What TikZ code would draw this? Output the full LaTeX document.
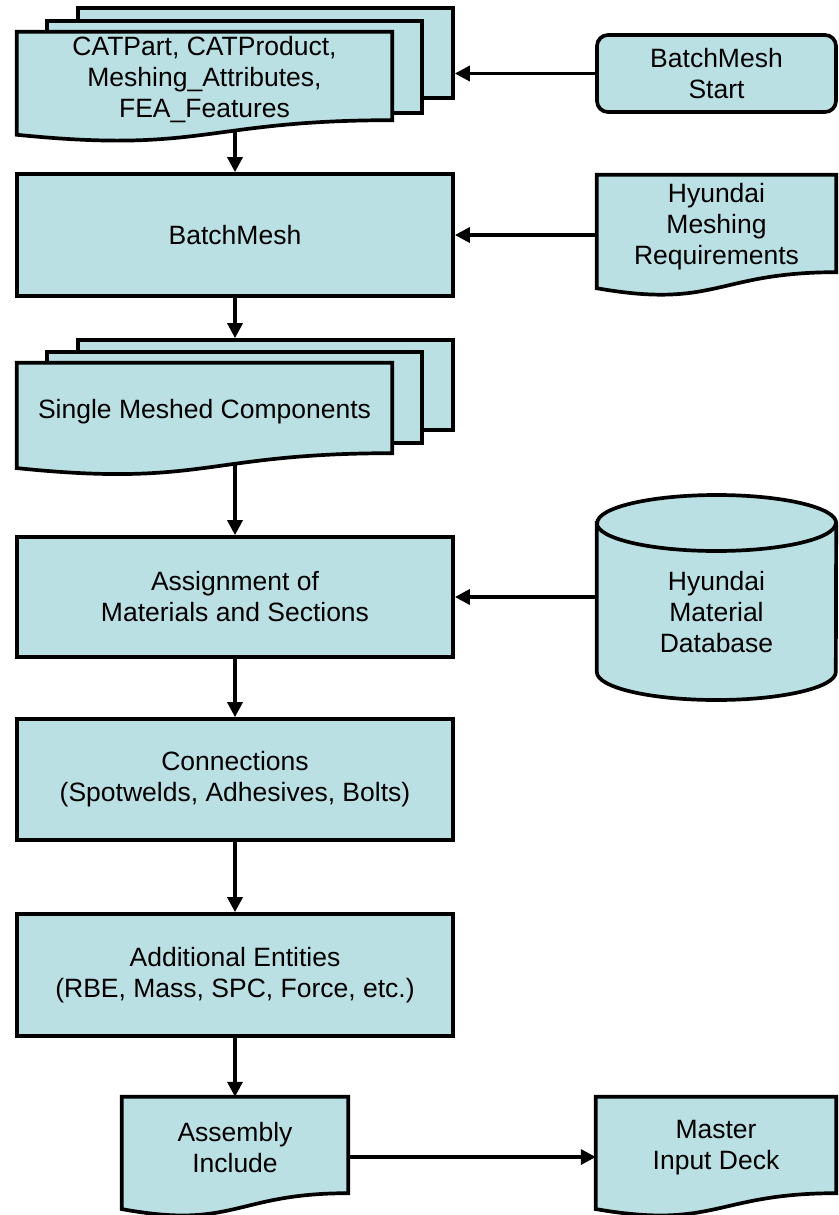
\documentclass[tikz,border=0pt]{standalone}
\usepackage{fontspec}
\setmainfont{Liberation Sans}
\usetikzlibrary{arrows.meta,calc,backgrounds}
\definecolor{boxfill}{RGB}{186,224,227}
\tikzset{
  shp/.style={draw=black, line width=3.7pt, fill=boxfill, line join=miter},
  boxnode/.style={shp, align=center, inner sep=0pt},
  rboxnode/.style={boxnode, rounded corners=11pt},
  holder/.style={draw=none, fill=none, inner sep=0pt},
  txt/.style={align=center, inner sep=0pt},
  page/.style={shp, inner sep=0pt, minimum width=375pt},
  conn/.style={draw=black, line width=3.4pt, -{Triangle[length=15pt,width=15pt]}},
}
\newcommand{\docpath}[1]{%
  \path[shp] let \p1=(#1.north west), \p2=(#1.south east),
    \n1={\y1-\y2}, \n2={(\x1+\x2)/2} in
    (\p1) -- (\x2,\y1) -- (\p2)
    .. controls (\n2,\y2) and (\n2,\y2-0.3803*\n1) ..
    (\x1,\y2-0.1646*\n1) -- cycle;}
\begin{document}
\begin{tikzpicture}[x=1pt,y=-1pt,font=\fontsize{26.5}{31}\selectfont]
\useasboundingbox (0,0) rectangle (838,1215);

% ---- document-type holders (text) ----
\node[holder, minimum width=375pt, minimum height=88pt,
  label={[txt,yshift=-4pt]center:{CATPart, CATProduct,\\Meshing\_Attributes,\\FEA\_Features}}]
  (cad) at (204.5,76) {};
\node[holder, minimum width=239pt, minimum height=97pt,
  label={[txt,yshift=-3pt]center:{Hyundai\\Meshing\\Requirements}}]
  (mreq) at (716.5,223.5) {};
\node[holder, minimum width=375pt, minimum height=90pt,
  label={[txt,yshift=-4pt]center:{Single Meshed Components}}]
  (smc) at (204.5,408) {};
\node[holder, minimum width=226pt, minimum height=96pt,
  label={[txt,yshift=-3pt]center:{Assembly\\Include}}]
  (asm) at (235,1145) {};
\node[holder, minimum width=240pt, minimum height=96pt,
  label={[txt,yshift=-3pt]center:{Master\\Input Deck}}]
  (mst) at (716,1145) {};
\node[holder, minimum width=239pt, minimum height=150pt,
  label={[txt,yshift=-15pt]center:{Hyundai\\Material\\Database}}]
  (db) at (716.5,597) {};

% ---- shapes behind the text ----
\begin{scope}[on background layer]
  \fill[white] (0,0) rectangle (838,1215);
  \node[page, minimum height=90pt] (cadB) at ($(cad.center)+(61,-23)$) {};
  \node[page, minimum height=92pt] (cadM) at ($(cad.center)+(30,-9)$) {};
  \docpath{cad}
  \node[page, minimum height=90pt] (smcB) at ($(smc.center)+(61,-23)$) {};
  \node[page, minimum height=91pt] (smcM) at ($(smc.center)+(30,-10.5)$) {};
  \docpath{smc}
  \docpath{mreq}
  \docpath{asm}
  \docpath{mst}
  % cylinder
  \path[shp] (db.west |- 0,523) -- (db.west |- 0,672)
    arc[start angle=180, end angle=360, x radius=119.5pt, y radius=28pt]
    -- (db.east |- 0,523)
    arc[start angle=0, end angle=180, x radius=119.5pt, y radius=28pt] -- cycle;
  \draw[line width=3.7pt] (db.west |- 0,523)
    arc[start angle=180, end angle=360, x radius=119.5pt, y radius=28pt];
\end{scope}

% ---- process boxes ----
\node[rboxnode, minimum width=239pt, minimum height=77pt] (bms) at (716.5,73.5) {BatchMesh\\Start};
\node[boxnode, minimum width=436pt, minimum height=122pt] (bm) at (235,235) {BatchMesh};
\node[boxnode, minimum width=436pt, minimum height=120pt] (asg) at (235,597) {Assignment of\\Materials and Sections};
\node[boxnode, minimum width=436pt, minimum height=121pt] (con) at (235,779.5) {Connections\\(Spotwelds, Adhesives, Bolts)};
\node[boxnode, minimum width=436pt, minimum height=122pt] (add) at (235,975) {Additional Entities\\(RBE, Mass, SPC, Force, etc.)};

% ---- connectors ----
\coordinate (cadb) at ($(cad.south)+(0,10)$);
\coordinate (smcb) at ($(smc.south)+(0,10)$);
\draw[conn] (bms.west) -- (cadB.east |- bms.west);
\draw[conn] (bm.north |- cadb) -- (bm.north);
\draw[conn] (mreq.west |- bm.east) -- (bm.east);
\draw[conn] (bm.south) -- (smcB.north -| bm.south);
\draw[conn] (asg.north |- smcb) -- (asg.north);
\draw[conn] (db.west) -- (asg.east);
\draw[conn] (asg.south) -- (con.north);
\draw[conn] (con.south) -- (add.north);
\draw[conn] (add.south) -- (asm.north);
\draw[conn] ($(asm.east)+(0,12)$) -- ($(mst.west)+(0,12)$);
\end{tikzpicture}
\end{document}
